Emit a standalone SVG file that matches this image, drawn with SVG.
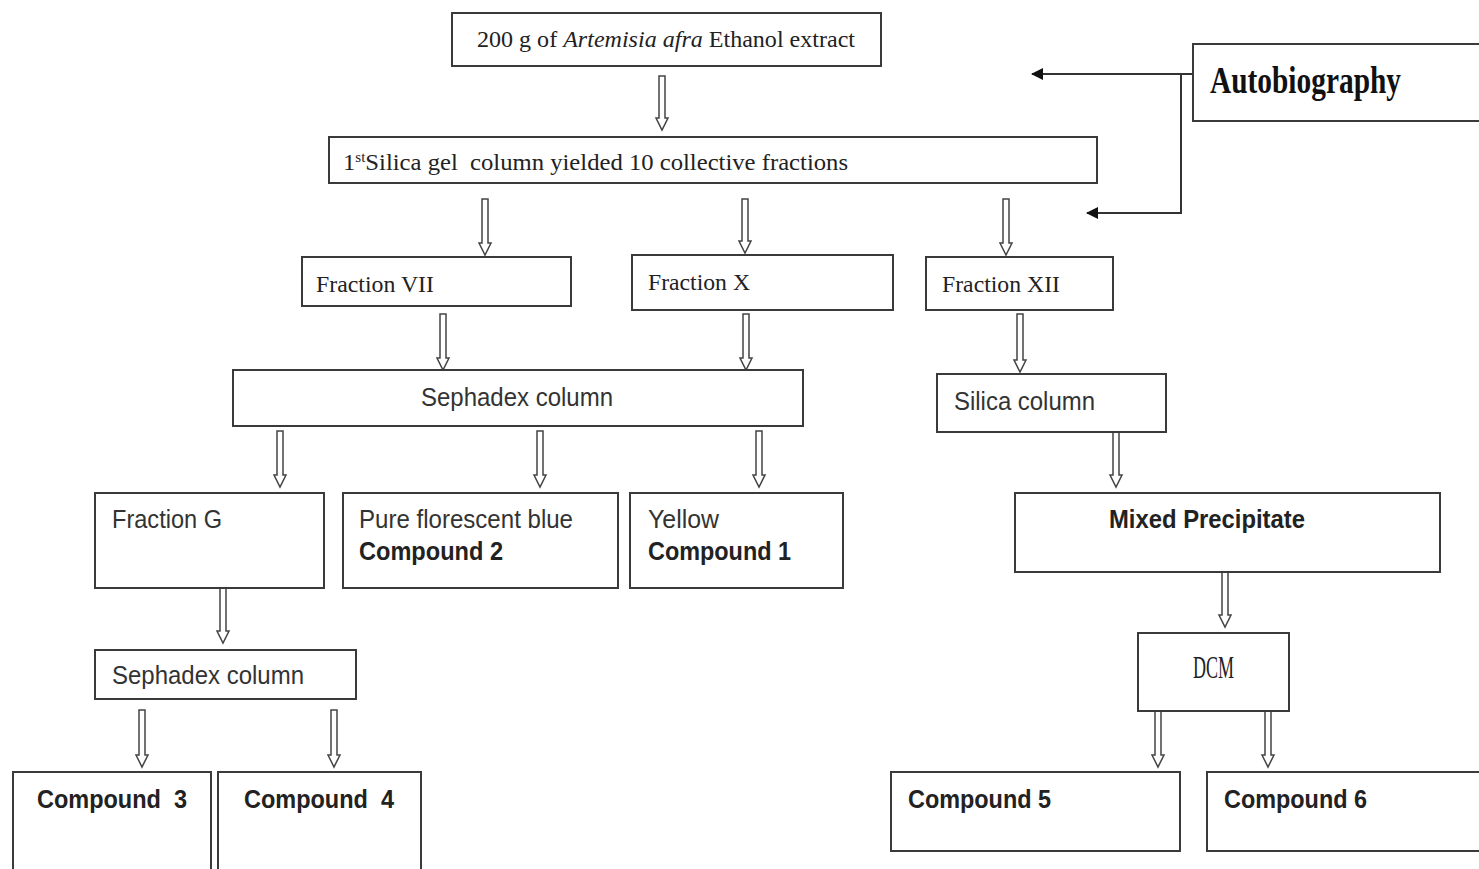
<svg xmlns="http://www.w3.org/2000/svg" width="1479" height="869" viewBox="0 0 1479 869">
<defs>
<style>
.box{fill:#fff;stroke:#3a3a3a;stroke-width:2}
.ser{font-family:"Liberation Serif","Times New Roman",serif;font-size:23px;fill:#222}
.san{font-family:"Liberation Sans",Arial,sans-serif;font-size:25px;fill:#333}
.bld{font-family:"Liberation Sans",Arial,sans-serif;font-size:25px;font-weight:bold;fill:#222}
.ha{fill:#fff;stroke:#444;stroke-width:1.5}
.ln{fill:none;stroke:#333;stroke-width:2}
</style>
<marker id="sa" viewBox="0 0 12 12" refX="11" refY="6" markerWidth="12" markerHeight="12" markerUnits="userSpaceOnUse" orient="auto">
<path d="M0,0 L12,6 L0,12 Z" fill="#111"/>
</marker>
</defs>
<rect width="1479" height="869" fill="#fff"/>

<g id="connectors">
<path class="ha" d="M659,76 H665 V118 H668 L662,130 L656,118 H659 Z"/>
<path class="ha" d="M482,199 H488 V243 H491 L485,255 L479,243 H482 Z"/>
<path class="ha" d="M742,199 H748 V241 H751 L745,253 L739,241 H742 Z"/>
<path class="ha" d="M1003,199 H1009 V243 H1012 L1006,255 L1000,243 H1003 Z"/>
<path class="ha" d="M440,314 H446 V358 H449 L443,370 L437,358 H440 Z"/>
<path class="ha" d="M743,314 H749 V358 H752 L746,370 L740,358 H743 Z"/>
<path class="ha" d="M1017,314 H1023 V360 H1026 L1020,372 L1014,360 H1017 Z"/>
<path class="ha" d="M277,431 H283 V475 H286 L280,487 L274,475 H277 Z"/>
<path class="ha" d="M537,431 H543 V475 H546 L540,487 L534,475 H537 Z"/>
<path class="ha" d="M756,431 H762 V475 H765 L759,487 L753,475 H756 Z"/>
<path class="ha" d="M1113,432 H1119 V475 H1122 L1116,487 L1110,475 H1113 Z"/>
<path class="ha" d="M220,588 H226 V631 H229 L223,643 L217,631 H220 Z"/>
<path class="ha" d="M1222,572 H1228 V615 H1231 L1225,627 L1219,615 H1222 Z"/>
<path class="ha" d="M139,710 H145 V755 H148 L142,767 L136,755 H139 Z"/>
<path class="ha" d="M331,710 H337 V755 H340 L334,767 L328,755 H331 Z"/>
<path class="ha" d="M1155,711 H1161 V755 H1164 L1158,767 L1152,755 H1155 Z"/>
<path class="ha" d="M1265,711 H1271 V755 H1274 L1268,767 L1262,755 H1265 Z"/>
<path class="ln" d="M1193,74 H1032" marker-end="url(#sa)"/>
<path class="ln" d="M1181,74 V213 H1087" marker-end="url(#sa)"/>
</g>

<g id="n-extract">
<rect class="box" x="452" y="13" width="429" height="53"/>
<text class="ser" x="477" y="47" textLength="378" lengthAdjust="spacingAndGlyphs">200 g of <tspan font-style="italic">Artemisia afra</tspan> Ethanol extract</text>
</g>

<g id="n-autobiography">
<rect class="box" x="1193" y="44" width="300" height="77"/>
<text x="1210" y="93" font-family="Liberation Serif,serif" font-weight="bold" font-size="37" fill="#111" textLength="191" lengthAdjust="spacingAndGlyphs">Autobiography</text>
</g>

<g id="n-silica1">
<rect class="box" x="329" y="137" width="768" height="46"/>
<text class="ser" x="343" y="170" textLength="505" lengthAdjust="spacingAndGlyphs">1<tspan font-size="14" dy="-8">st</tspan><tspan dy="8">Silica gel&#160; column yielded 10 collective fractions</tspan></text>
</g>

<g id="n-fvii">
<rect class="box" x="302" y="257" width="269" height="49"/>
<text class="ser" x="316" y="292" textLength="118" lengthAdjust="spacingAndGlyphs">Fraction VII</text>
</g>

<g id="n-fx">
<rect class="box" x="632" y="255" width="261" height="55"/>
<text class="ser" x="648" y="290" textLength="102" lengthAdjust="spacingAndGlyphs">Fraction X</text>
</g>

<g id="n-fxii">
<rect class="box" x="926" y="257" width="187" height="53"/>
<text class="ser" x="942" y="292" textLength="118" lengthAdjust="spacingAndGlyphs">Fraction XII</text>
</g>

<g id="n-sephadex1">
<rect class="box" x="233" y="370" width="570" height="56"/>
<text class="san" x="421" y="406" textLength="192" lengthAdjust="spacingAndGlyphs">Sephadex column</text>
</g>

<g id="n-silica2">
<rect class="box" x="937" y="374" width="229" height="58"/>
<text class="san" x="954" y="410" textLength="141" lengthAdjust="spacingAndGlyphs">Silica column</text>
</g>

<g id="n-fg">
<rect class="box" x="95" y="493" width="229" height="95"/>
<text class="san" x="112" y="528" textLength="110" lengthAdjust="spacingAndGlyphs">Fraction G</text>
</g>

<g id="n-c2">
<rect class="box" x="343" y="493" width="275" height="95"/>
<text class="san" x="359" y="528" textLength="214" lengthAdjust="spacingAndGlyphs">Pure florescent blue</text>
<text class="bld" x="359" y="560" textLength="144" lengthAdjust="spacingAndGlyphs">Compound 2</text>
</g>

<g id="n-c1">
<rect class="box" x="630" y="493" width="213" height="95"/>
<text class="san" x="648" y="528" textLength="71" lengthAdjust="spacingAndGlyphs">Yellow</text>
<text class="bld" x="648" y="560" textLength="143" lengthAdjust="spacingAndGlyphs">Compound 1</text>
</g>

<g id="n-mixed">
<rect class="box" x="1015" y="493" width="425" height="79"/>
<text class="bld" x="1109" y="528" textLength="196" lengthAdjust="spacingAndGlyphs">Mixed Precipitate</text>
</g>

<g id="n-sephadex2">
<rect class="box" x="95" y="650" width="261" height="49"/>
<text class="san" x="112" y="684" textLength="192" lengthAdjust="spacingAndGlyphs">Sephadex column</text>
</g>

<g id="n-dcm">
<rect class="box" x="1138" y="633" width="151" height="78"/>
<text class="ser" x="1193" y="678" style="font-size:32px" textLength="41" lengthAdjust="spacingAndGlyphs">DCM</text>
</g>

<g id="n-c3">
<rect class="box" x="13" y="772" width="198" height="110"/>
<text class="bld" x="37" y="808" textLength="150" lengthAdjust="spacingAndGlyphs">Compound&#160; 3</text>
</g>

<g id="n-c4">
<rect class="box" x="218" y="772" width="203" height="110"/>
<text class="bld" x="244" y="808" textLength="150" lengthAdjust="spacingAndGlyphs">Compound&#160; 4</text>
</g>

<g id="n-c5">
<rect class="box" x="891" y="772" width="289" height="79"/>
<text class="bld" x="908" y="808" textLength="143" lengthAdjust="spacingAndGlyphs">Compound 5</text>
</g>

<g id="n-c6">
<rect class="box" x="1207" y="772" width="290" height="79"/>
<text class="bld" x="1224" y="808" textLength="143" lengthAdjust="spacingAndGlyphs">Compound 6</text>
</g>
</svg>
